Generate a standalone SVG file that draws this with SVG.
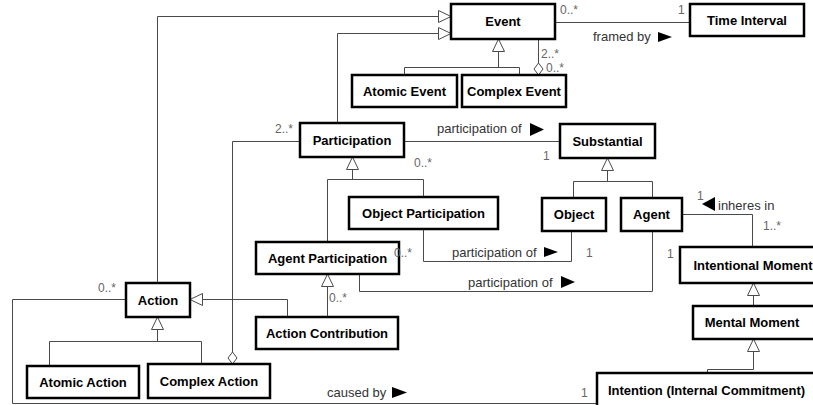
<svg xmlns="http://www.w3.org/2000/svg" width="813" height="405" viewBox="0 0 813 405">
  <style>
    .box { fill: #fff; stroke: #000; stroke-width: 2.5; }
    .name { font-family: "Liberation Sans", Arial, sans-serif; font-size: 13px; font-weight: bold; fill: #000; text-anchor: middle; }
    .conn { fill: none; stroke: #4a4a4a; stroke-width: 1; }
    .lbl { font-family: "Liberation Sans", Arial, sans-serif; font-size: 13px; fill: #333; }
    .mult { font-family: "Liberation Sans", Arial, sans-serif; font-size: 12px; fill: #666; }
    .dir { fill: #000; }
  </style>
  <defs>
    <marker id="gen" markerUnits="userSpaceOnUse" markerWidth="14" markerHeight="14" refX="13" refY="6.5" orient="auto">
      <path d="M0.5,0.5 L13,6.5 L0.5,12.5 Z" fill="#fff" stroke="#4a4a4a" stroke-width="1"/>
    </marker>
    <marker id="agg" markerUnits="userSpaceOnUse" markerWidth="14" markerHeight="12" refX="12.5" refY="5" orient="auto">
      <path d="M0.5,5 L6.5,0.5 L12.5,5 L6.5,9.5 Z" fill="#fff" stroke="#4a4a4a" stroke-width="1"/>
    </marker>
  </defs>

  <!-- connectors -->
  <g id="connectors">
    <!-- generalizations -->
    <path class="conn" d="M157.5,283 V16.5 H451" marker-end="url(#gen)"/>
    <path class="conn" d="M337.5,123 V33.5 H451" marker-end="url(#gen)"/>
    <path class="conn" d="M404.5,75 V67.5 H519.5 V75"/>
    <path class="conn" d="M498.5,67.5 V39" marker-end="url(#gen)"/>
    <path class="conn" d="M573.5,198 V181.5 H652.5 V198"/>
    <path class="conn" d="M607.5,181.5 V158" marker-end="url(#gen)"/>
    <path class="conn" d="M327.5,242 V179.5 H423.5 V197"/>
    <path class="conn" d="M352.5,179.5 V157" marker-end="url(#gen)"/>
    <path class="conn" d="M327.5,317 V274" marker-end="url(#gen)"/>
    <path class="conn" d="M287.5,317 V299.5 H190" marker-end="url(#gen)"/>
    <path class="conn" d="M49.5,366 V341.5 H201.5 V364"/>
    <path class="conn" d="M157.5,341.5 V317" marker-end="url(#gen)"/>
    <path class="conn" d="M753.5,306 V283" marker-end="url(#gen)"/>
    <path class="conn" d="M707.5,373 V369.5 H753.5 V339" marker-end="url(#gen)"/>

    <!-- aggregations -->
    <path class="conn" d="M538.5,39 V75" marker-end="url(#agg)"/>
    <path class="conn" d="M300,141.5 H232.5 V364" marker-end="url(#agg)"/>

    <!-- associations -->
    <path class="conn" d="M555,22.5 H690"/>
    <path class="conn" d="M404,141.5 H560"/>
    <path class="conn" d="M682,214.5 H752.5 V247"/>
    <path class="conn" d="M423.5,229 V261.5 H571.5 V231"/>
    <path class="conn" d="M359.5,274 V291.5 H652.5 V231"/>
    <path class="conn" d="M126,299.5 H12.5 V403.5 H597"/>
  </g>

  <!-- nodes -->
  <g id="event"><rect class="box" x="451" y="4" width="104" height="35"/><text class="name" x="503" y="26">Event</text></g>
  <g id="time-interval"><rect class="box" x="690" y="4" width="114" height="32"/><text class="name" x="747" y="24.5">Time Interval</text></g>
  <g id="atomic-event"><rect class="box" x="352" y="75" width="105" height="32"/><text class="name" x="404.5" y="95.5">Atomic Event</text></g>
  <g id="complex-event"><rect class="box" x="462" y="75" width="104" height="32"/><text class="name" x="514" y="95.5">Complex Event</text></g>
  <g id="participation"><rect class="box" x="300" y="123" width="104" height="34"/><text class="name" x="352" y="144.5">Participation</text></g>
  <g id="substantial"><rect class="box" x="560" y="124" width="95" height="34"/><text class="name" x="607.5" y="145.5">Substantial</text></g>
  <g id="object-participation"><rect class="box" x="349" y="197" width="149" height="32"/><text class="name" x="423.5" y="217.5">Object Participation</text></g>
  <g id="object"><rect class="box" x="542" y="198" width="64" height="33"/><text class="name" x="574" y="219">Object</text></g>
  <g id="agent"><rect class="box" x="621" y="198" width="61" height="33"/><text class="name" x="651.5" y="219">Agent</text></g>
  <g id="agent-participation"><rect class="box" x="256" y="242" width="143" height="32"/><text class="name" x="327.5" y="262.5">Agent Participation</text></g>
  <g id="action-contribution"><rect class="box" x="256" y="317" width="142" height="32"/><text class="name" x="327" y="337.5">Action Contribution</text></g>
  <g id="action"><rect class="box" x="126" y="283" width="64" height="34"/><text class="name" x="158" y="304.5">Action</text></g>
  <g id="atomic-action"><rect class="box" x="27" y="366" width="112" height="32"/><text class="name" x="83" y="386.5">Atomic Action</text></g>
  <g id="complex-action"><rect class="box" x="148" y="364" width="122" height="34"/><text class="name" x="209" y="385.5">Complex Action</text></g>
  <g id="intentional-moment"><rect class="box" x="680" y="247" width="146" height="36"/><text class="name" x="753" y="269.5">Intentional Moment</text></g>
  <g id="mental-moment"><rect class="box" x="693" y="306" width="133" height="33"/><text class="name" x="752" y="327">Mental Moment</text></g>
  <g id="intention"><rect class="box" x="597" y="373" width="230" height="40"/><text class="name" x="706.5" y="394.5">Intention (Internal Commitment)</text></g>

  <!-- association names, reading arrows and multiplicities -->
  <g id="labels">
    <text class="mult" x="560" y="14">0..*</text>
    <text class="mult" x="678" y="14">1</text>
    <text class="lbl" x="593" y="41">framed by</text>
    <polygon class="dir" points="658,32 672,37 658,42"/>

    <text class="mult" x="541" y="58">2..*</text>
    <text class="mult" x="546" y="72">0..*</text>

    <text class="mult" x="275" y="133">2..*</text>
    <text class="lbl" x="437" y="133">participation of</text>
    <polygon class="dir" points="530,123 544,129.5 530,136"/>
    <text class="mult" x="543" y="160">1</text>
    <text class="mult" x="414" y="167">0..*</text>

    <text class="mult" x="697" y="200">1</text>
    <polygon class="dir" points="715,197 702,204 715,211"/>
    <text class="lbl" x="718" y="210">inheres in</text>
    <text class="mult" x="763" y="230">1..*</text>

    <text class="mult" x="394" y="257">0..*</text>
    <text class="lbl" x="452" y="257">participation of</text>
    <polygon class="dir" points="544,247 558,252 544,257"/>
    <text class="mult" x="586" y="257">1</text>

    <text class="lbl" x="468" y="287">participation of</text>
    <polygon class="dir" points="561,276 575,282 561,288"/>
    <text class="mult" x="667" y="258">1</text>

    <text class="mult" x="329" y="302">0..*</text>
    <text class="mult" x="98" y="292">0..*</text>

    <text class="lbl" x="327" y="397">caused by</text>
    <polygon class="dir" points="392,387 407,392.5 392,398"/>
    <text class="mult" x="581" y="397">1</text>
  </g>
</svg>
